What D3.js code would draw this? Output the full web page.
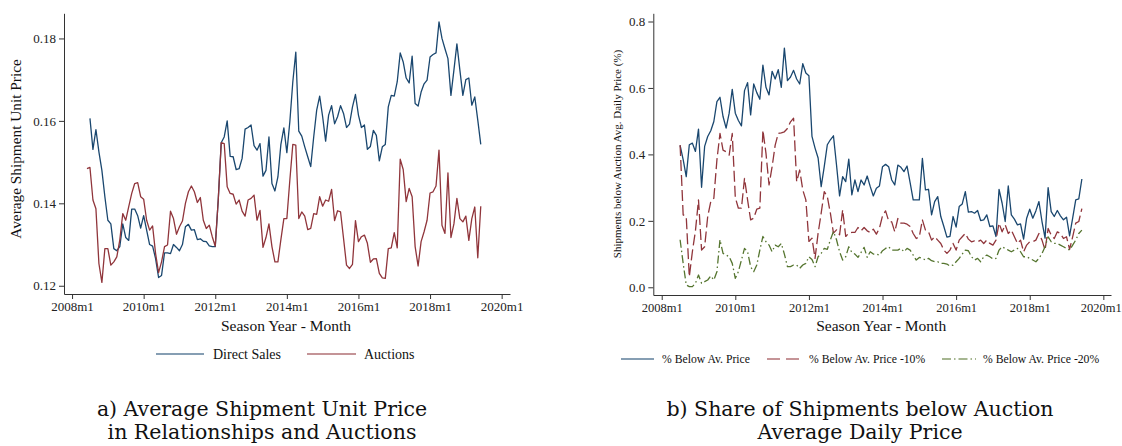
<!DOCTYPE html>
<html>
<head>
<meta charset="utf-8">
<script src="https://cdn.jsdelivr.net/npm/d3@7"></script>
<style>
  body { margin: 0; background: #fff; }
  svg { display: block; }
  .tick text { font-family: "Liberation Serif", serif; font-size: 13px; fill: #222; }
  .tick line, .domain { stroke: #333; }
</style>
</head>
<body>
<svg id="chart" width="1122" height="446"></svg>
<script>
// months counted from 2008m1 (= 0)
const yearTicks = [0, 24, 48, 72, 96, 120, 144];

// a) average unit price, Direct Sales from 2008m7, Auctions from 2008m6
const directStart = 6;
const directSales = [
  0.1606, 0.1531, 0.1579, 0.1525, 0.1480, 0.1416, 0.1359, 0.1350, 0.1290, 0.1285,
  0.1295, 0.1350, 0.1317, 0.1310, 0.1386, 0.1386, 0.1370, 0.1340, 0.1370, 0.1335,
  0.1300, 0.1296, 0.1266, 0.1220, 0.1225, 0.1280, 0.1280, 0.1278, 0.1300, 0.1293,
  0.1285, 0.1300, 0.1343, 0.1349, 0.1335, 0.1336, 0.1312, 0.1314, 0.1308, 0.1307,
  0.1297, 0.1295, 0.1295, 0.1408, 0.1547, 0.1561, 0.1600, 0.1514, 0.1513, 0.1482,
  0.1484, 0.1509, 0.1580, 0.1584, 0.1590, 0.1540, 0.1529, 0.1545, 0.1466, 0.1480,
  0.1561, 0.1448, 0.1430, 0.1464, 0.1543, 0.1583, 0.1523, 0.1598, 0.1695, 0.1767,
  0.1575, 0.1563, 0.1537, 0.1513, 0.1489, 0.1561, 0.1626, 0.1660, 0.1610, 0.1551,
  0.1614, 0.1637, 0.1593, 0.1610, 0.1637, 0.1618, 0.1584, 0.1592, 0.1634, 0.1664,
  0.1614, 0.1584, 0.1590, 0.1531, 0.1538, 0.1577, 0.1565, 0.1503, 0.1537, 0.1543,
  0.1634, 0.1662, 0.1660, 0.1695, 0.1765, 0.1743, 0.1704, 0.1692, 0.1757, 0.1642,
  0.1636, 0.1670, 0.1690, 0.1699, 0.1755, 0.1761, 0.1765, 0.1840, 0.1800, 0.1775,
  0.1751, 0.1662, 0.1723, 0.1787, 0.1723, 0.1662, 0.1700, 0.1704, 0.1638, 0.1658,
  0.1602, 0.1543
];
const auctionStart = 5;
const auctions = [
  0.1484, 0.1487, 0.1408, 0.1387, 0.1254, 0.1208, 0.1290, 0.1290, 0.1250, 0.1258,
  0.1270, 0.1311, 0.1375, 0.1359, 0.1392, 0.1424, 0.1448, 0.1450, 0.1416, 0.1410,
  0.1359, 0.1335, 0.1345, 0.1278, 0.1232, 0.1258, 0.1295, 0.1299, 0.1381, 0.1363,
  0.1325, 0.1343, 0.1357, 0.1400, 0.1428, 0.1442, 0.1428, 0.1402, 0.1414, 0.1359,
  0.1339, 0.1347, 0.1319, 0.1296, 0.1408, 0.1547, 0.1545, 0.1440, 0.1424, 0.1422,
  0.1398, 0.1408, 0.1381, 0.1369, 0.1408, 0.1412, 0.1420, 0.1359, 0.1383, 0.1293,
  0.1317, 0.1350, 0.1295, 0.1258, 0.1258, 0.1312, 0.1363, 0.1363, 0.1456, 0.1543,
  0.1541, 0.1363, 0.1379, 0.1369, 0.1336, 0.1339, 0.1375, 0.1373, 0.1416, 0.1393,
  0.1408, 0.1405, 0.1434, 0.1358, 0.1382, 0.1379, 0.1315, 0.1250, 0.1242, 0.1252,
  0.1358, 0.1307, 0.1319, 0.1323, 0.1303, 0.1257, 0.1265, 0.1266, 0.1230, 0.1219,
  0.1218, 0.1290, 0.1292, 0.1329, 0.1292, 0.1507, 0.1482, 0.1404, 0.1436, 0.1416,
  0.1295, 0.1248, 0.1307, 0.1331, 0.1359, 0.1425, 0.1428, 0.1442, 0.1529, 0.1347,
  0.1327, 0.1474, 0.1317, 0.1350, 0.1412, 0.1363, 0.1355, 0.1369, 0.1310, 0.1363,
  0.1391, 0.1268, 0.1393
];

// b) share of shipments below auction average daily price, from 2008m7
const shareStart = 6;
const belowAvg = [
  0.427, 0.384, 0.333, 0.429, 0.434, 0.409, 0.476, 0.301, 0.424, 0.454,
  0.471, 0.499, 0.559, 0.572, 0.514, 0.479, 0.524, 0.596, 0.524, 0.502,
  0.486, 0.592, 0.616, 0.519, 0.612, 0.586, 0.566, 0.669, 0.602, 0.579,
  0.650, 0.627, 0.655, 0.602, 0.720, 0.622, 0.633, 0.653, 0.627, 0.612,
  0.673, 0.645, 0.637, 0.454, 0.419, 0.389, 0.303, 0.363, 0.429, 0.444,
  0.456, 0.368, 0.275, 0.333, 0.318, 0.386, 0.278, 0.323, 0.288, 0.323,
  0.308, 0.335, 0.303, 0.275, 0.298, 0.305, 0.363, 0.370, 0.363, 0.323,
  0.308, 0.368, 0.361, 0.348, 0.365, 0.315, 0.263, 0.263, 0.263, 0.388,
  0.293, 0.295, 0.218, 0.258, 0.273, 0.213, 0.183, 0.151, 0.153, 0.213,
  0.181, 0.243, 0.251, 0.288, 0.226, 0.228, 0.223, 0.231, 0.201, 0.203,
  0.218, 0.183, 0.185, 0.153, 0.295, 0.253, 0.198, 0.305, 0.218, 0.205,
  0.188, 0.191, 0.145, 0.208, 0.235, 0.208, 0.230, 0.258, 0.198, 0.148,
  0.300, 0.228, 0.213, 0.231, 0.215, 0.203, 0.211, 0.155, 0.208, 0.263,
  0.266, 0.326
];
const below10 = [
  0.428, 0.218, 0.213, 0.032, 0.107, 0.170, 0.263, 0.112, 0.122, 0.213,
  0.258, 0.268, 0.383, 0.463, 0.413, 0.408, 0.398, 0.463, 0.270, 0.238,
  0.238, 0.328, 0.263, 0.203, 0.208, 0.235, 0.238, 0.473, 0.403, 0.308,
  0.363, 0.428, 0.463, 0.465, 0.468, 0.478, 0.498, 0.509, 0.318, 0.353,
  0.293, 0.263, 0.138, 0.148, 0.087, 0.163, 0.223, 0.288, 0.273, 0.223,
  0.163, 0.173, 0.158, 0.233, 0.153, 0.163, 0.165, 0.165, 0.180, 0.170,
  0.180, 0.170, 0.165, 0.175, 0.160, 0.178, 0.215, 0.230, 0.200, 0.197,
  0.167, 0.207, 0.193, 0.193, 0.190, 0.183, 0.162, 0.147, 0.152, 0.203,
  0.172, 0.167, 0.142, 0.152, 0.142, 0.132, 0.112, 0.102, 0.112, 0.132,
  0.112, 0.142, 0.152, 0.162, 0.145, 0.137, 0.140, 0.137, 0.142, 0.132,
  0.142, 0.132, 0.127, 0.142, 0.193, 0.167, 0.188, 0.162, 0.172, 0.152,
  0.132, 0.142, 0.107, 0.127, 0.137, 0.137, 0.142, 0.162, 0.142, 0.112,
  0.177, 0.157, 0.147, 0.167, 0.162, 0.147, 0.152, 0.114, 0.152, 0.193,
  0.198, 0.237
];
const below20 = [
  0.143, 0.072, 0.007, 0.002, 0.002, 0.012, 0.037, 0.012, 0.017, 0.022,
  0.034, 0.022, 0.047, 0.143, 0.102, 0.097, 0.092, 0.072, 0.027, 0.047,
  0.082, 0.117, 0.107, 0.062, 0.047, 0.067, 0.112, 0.153, 0.137, 0.127,
  0.107, 0.127, 0.122, 0.132, 0.100, 0.062, 0.062, 0.067, 0.067, 0.057,
  0.067, 0.072, 0.092, 0.084, 0.062, 0.092, 0.102, 0.117, 0.114, 0.143,
  0.168, 0.143, 0.107, 0.082, 0.092, 0.122, 0.105, 0.100, 0.090, 0.105,
  0.120, 0.090, 0.107, 0.100, 0.100, 0.097, 0.110, 0.117, 0.122, 0.112,
  0.112, 0.112, 0.117, 0.107, 0.117, 0.112, 0.097, 0.082, 0.090, 0.087,
  0.082, 0.087, 0.080, 0.077, 0.077, 0.072, 0.072, 0.070, 0.064, 0.067,
  0.077, 0.087, 0.100, 0.112, 0.110, 0.092, 0.082, 0.087, 0.077, 0.092,
  0.097, 0.092, 0.085, 0.087, 0.112, 0.122, 0.117, 0.112, 0.107, 0.112,
  0.117, 0.107, 0.092, 0.092, 0.087, 0.082, 0.077, 0.087, 0.102, 0.122,
  0.152, 0.137, 0.132, 0.132, 0.127, 0.122, 0.117, 0.112, 0.127, 0.142,
  0.162, 0.172
];

const navy = "#1a476f", maroon = "#90353b", forest = "#55752f";
const serif = "'Liberation Serif', serif";
const capFont = "'DejaVu Serif', serif";

const svg = d3.select("#chart");

function toPoints(values, start) {
  return values.map((v, i) => ({ m: start + i, v: v }));
}

function drawPanel(opts) {
  const x = d3.scaleLinear().domain(opts.xDomain).range(opts.xRange);
  const y = d3.scaleLinear().domain(opts.yDomain).range(opts.yRange);
  const g = svg.append("g");

  const xAxis = g.append("g")
    .attr("transform", `translate(0,${opts.yRange[0]})`)
    .call(d3.axisBottom(x).tickValues(yearTicks)
      .tickFormat(m => (2008 + m / 12) + "m1")
      .tickSize(5).tickSizeOuter(0).tickPadding(3));
  xAxis.selectAll(".tick text").style("font-size", opts.tickSize);
  // keep the last year label inside the page
  if (opts.lastLabelShift) {
    xAxis.selectAll(".tick").filter(d => d === 144).select("text")
      .attr("dx", opts.lastLabelShift);
  }

  g.append("g")
    .attr("transform", `translate(${opts.xRange[0]},0)`)
    .call(d3.axisLeft(y).tickValues(opts.yTicks)
      .tickFormat(d3.format(opts.yFormat))
      .tickSize(5).tickSizeOuter(0).tickPadding(3));

  const line = d3.line().x(d => x(d.m)).y(d => y(d.v));
  opts.series.forEach(s => {
    g.append("path")
      .datum(toPoints(s.values, s.start))
      .attr("fill", "none")
      .attr("stroke", s.color)
      .attr("stroke-width", 1.3)
      .attr("stroke-linejoin", "round")
      .attr("stroke-dasharray", s.dash || null)
      .attr("d", line);
  });

  // axis titles
  g.append("text")
    .attr("x", (opts.xRange[0] + opts.xRange[1]) / 2 - 1)
    .attr("y", 331)
    .attr("text-anchor", "middle")
    .style("font-family", serif).style("font-size", "15.5px").style("fill", "#111")
    .text("Season Year - Month");

  g.append("text")
    .attr("transform", `translate(${opts.yTitleX},${opts.yTitleY}) rotate(-90)`)
    .attr("text-anchor", "middle")
    .style("font-family", serif).style("font-size", opts.yTitleSize).style("fill", "#111")
    .text(opts.yTitle);

  // legend
  opts.legend.forEach(l => {
    g.append("line")
      .attr("x1", l.x1).attr("x2", l.x2)
      .attr("y1", opts.legendY).attr("y2", opts.legendY)
      .attr("stroke", l.color).attr("stroke-width", 1.3)
      .attr("stroke-opacity", 0.7)
      .attr("stroke-dasharray", l.dash || null);
    g.append("text")
      .attr("x", l.tx).attr("y", opts.legendY).attr("dy", "0.35em")
      .style("font-family", serif).style("font-size", opts.legendSize).style("fill", "#111")
      .text(l.label);
  });

  // caption
  opts.caption.forEach((c, i) => {
    g.append("text")
      .attr("x", opts.captionX).attr("y", 416 + i * 22.5)
      .attr("text-anchor", "middle")
      .style("font-family", capFont).style("font-size", "20.5px").style("fill", "#111")
      .text(c);
  });
}

drawPanel({
  xDomain: [-2.7, 146.8], xRange: [64, 510],
  yDomain: [0.118, 0.1861], yRange: [294, 13.3],
  yTicks: [0.12, 0.14, 0.16, 0.18], yFormat: ".2f", tickSize: "13px",
  series: [
    { values: directSales, start: directStart, color: navy },
    { values: auctions, start: auctionStart, color: maroon }
  ],
  yTitle: "Average Shipment Unit Price", yTitleX: 21, yTitleY: 149, yTitleSize: "15.3px",
  legendY: 354, legendSize: "14px",
  legend: [
    { x1: 156, x2: 204, tx: 213, color: navy, label: "Direct Sales" },
    { x1: 307, x2: 356, tx: 364, color: maroon, label: "Auctions" }
  ],
  captionX: 262,
  caption: ["a) Average Shipment Unit Price", "in Relationships and Auctions"]
});

drawPanel({
  xDomain: [-2.74, 146.5], xRange: [653.3, 1111],
  yDomain: [-0.0232, 0.8247], yRange: [295, 13.3],
  yTicks: [0, 0.2, 0.4, 0.6, 0.8], yFormat: ".1f", tickSize: "12.5px", lastLabelShift: -2.5,
  series: [
    { values: belowAvg, start: shareStart, color: navy },
    { values: below10, start: shareStart, color: maroon, dash: "11,4" },
    { values: below20, start: shareStart, color: forest, dash: "8,3,1.5,3" }
  ],
  yTitle: "Shipments below Auction Avg. Daily Price (%)", yTitleX: 621, yTitleY: 154, yTitleSize: "11px",
  legendY: 359, legendSize: "11.7px",
  legend: [
    { x1: 621, x2: 654, tx: 662, color: navy, label: "% Below Av. Price" },
    { x1: 767, x2: 800, tx: 809, color: maroon, dash: "13,6", label: "% Below Av. Price -10%" },
    { x1: 942, x2: 976, tx: 983, color: forest, dash: "9,3,1.5,3", label: "% Below Av. Price -20%" }
  ],
  captionX: 860,
  caption: ["b) Share of Shipments below Auction", "Average Daily Price"]
});
</script>
</body>
</html>
